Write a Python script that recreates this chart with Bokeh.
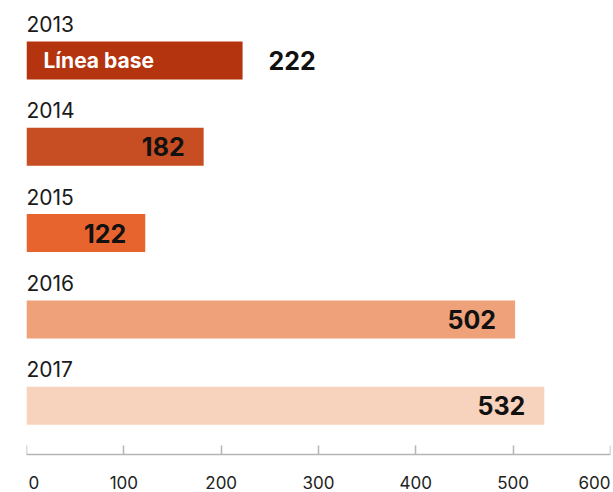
from bokeh.plotting import figure
from bokeh.models import ColumnDataSource, Range1d, LinearAxis, FixedTicker
from bokeh.core.properties import value
from bokeh.embed import file_html
from bokeh.resources import INLINE

years = ["2013", "2014", "2015", "2016", "2017"]
values = [222, 182, 122, 502, 532]
colors = ["#b3340e", "#c64e22", "#e8642f", "#efa17a", "#f7d2bd"]
base_label = "Línea base"
ticks = [0, 100, 200, 300, 400, 500, 600]

FONT = "Inter"
PX = 86.3      # pixels per row unit
TOP = 60       # pixel centre of first bar
H = 492
ypos = [-i for i in range(len(years))]

p = figure(width=613, height=H, output_backend="svg", toolbar_location=None,
           x_range=Range1d(0, 600), y_range=Range1d(-(H - TOP) / PX, TOP / PX),
           x_axis_type=None, y_axis_type=None,
           min_border_left=26, min_border_right=3, min_border_top=0, min_border_bottom=0)
p.outline_line_color = None
p.grid.visible = False

src = ColumnDataSource(dict(y=ypos, v=values, c=colors, yr=years,
                            ylab=[y + 36.5 / PX for y in ypos]))
p.hbar(y="y", left=0, right="v", height=38 / PX, fill_color="c", line_color=None, source=src)

# year labels
p.text(x=0, y="ylab", text="yr", source=src, text_font=value(FONT), text_font_size="21px",
       text_color="#1a1a1a", text_align="left", text_baseline="middle")

# value labels inside bars (rows after first)
inside = ColumnDataSource(dict(y=ypos[1:], v=values[1:], lab=[str(v) for v in values[1:]]))
p.text(x="v", y="y", text="lab", source=inside, x_offset=-19, text_font=value(FONT),
       text_font_size="25px", text_font_style="bold", text_color="#111111",
       text_align="right", text_baseline="middle")

# first row: value outside, base label inside
first = ColumnDataSource(dict(y=[ypos[0]], v=[values[0]], lab=[str(values[0])], b=[base_label]))
p.text(x="v", y="y", text="lab", source=first, x_offset=26, text_font=value(FONT),
       text_font_size="25px", text_font_style="bold", text_color="#111111",
       text_align="left", text_baseline="middle")
p.text(x=0, y="y", text="b", source=first, x_offset=17, text_font=value(FONT),
       text_font_size="21px", text_font_style="bold", text_color="#ffffff",
       text_align="left", text_baseline="middle")

axis_y = -(453.5 - TOP) / PX
axis = LinearAxis(ticker=FixedTicker(ticks=ticks), fixed_location=axis_y)
axis.axis_line_color = "#b5b5b5"
axis.axis_line_width = 1.5
axis.major_tick_line_color = "#b5b5b5"
axis.major_tick_line_width = 1.5
axis.major_tick_in = 9
axis.major_tick_out = 0
axis.minor_tick_line_color = None
axis.major_label_text_font_size = "0px"
axis.major_label_text_alpha = 0
axis.major_label_standoff = 0
p.add_layout(axis, "below")

# tick labels (first left-aligned, last right-aligned so they stay inside)
ty = -(482 - TOP) / PX
mid = ticks[1:-1]
p.text(x=mid, y=[ty] * len(mid), text=[str(t) for t in mid], text_font=value(FONT),
       text_font_size="17px", text_color="#222222", text_align="center", text_baseline="middle")
p.text(x=[ticks[0]], y=[ty], text=[str(ticks[0])], x_offset=2, text_font=value(FONT),
       text_font_size="17px", text_color="#222222", text_align="left", text_baseline="middle")
p.text(x=[ticks[-1]], y=[ty], text=[str(ticks[-1])], text_font=value(FONT),
       text_font_size="17px", text_color="#222222", text_align="right", text_baseline="middle")

open("out.html", "w").write(file_html(p, INLINE))
